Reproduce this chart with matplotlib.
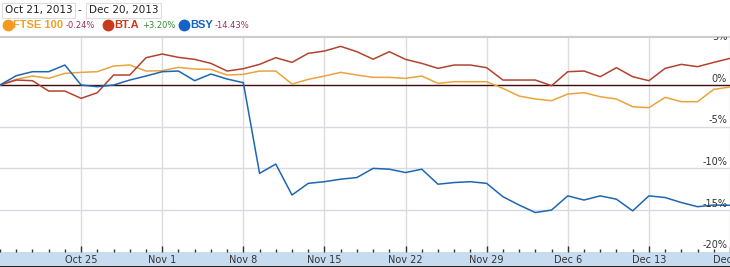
import matplotlib.pyplot as plt
from matplotlib.patches import Rectangle

# trading days from Oct 18 (index 0) to Dec 20, 2013 (index 45)
ftse = [0, 0.68, 1.08, 0.8, 1.4, 1.52, 1.6, 2.28, 2.4, 1.68, 1.72, 2.12, 1.92, 1.88, 1.2, 1.28,
        1.68, 1.68, 0.12, 0.68, 1.08, 1.52, 1.2, 0.92, 0.92, 0.8, 1.08, 0.2, 0.4, 0.4, 0.4,
        -0.4, -1.32, -1.68, -1.88, -1.08, -0.92, -1.4, -1.68, -2.6, -2.72, -1.48, -2.0, -2.0,
        -0.52, -0.24]
bt = [0, 0.6, 0.52, -0.72, -0.72, -1.6, -0.92, 1.2, 1.2, 3.28, 3.72, 3.32, 3.08, 2.6, 1.68, 1.96,
      2.48, 3.28, 2.72, 3.8, 4.08, 4.64, 4.0, 3.1, 4.0, 3.08, 2.6, 2.0, 2.4, 2.4, 2.08,
      0.6, 0.6, 0.6, -0.08, 1.6, 1.68, 1.0, 2.08, 1.0, 0.52, 2.0, 2.48, 2.2, 2.72, 3.2]
bsy = [0, 1.12, 1.6, 1.6, 2.4, 0, -0.2, 0, 0.6, 1.08, 1.6, 1.68, 0.52, 1.32, 0.72, 0.28,
       -10.6, -9.48, -13.2, -11.8, -11.6, -11.3, -11.1, -10.0, -10.1, -10.5, -10.1, -11.9,
       -11.7, -11.6, -11.8, -13.4, -14.4, -15.3, -15.0, -13.3, -13.8, -13.3, -13.7, -15.1,
       -13.3, -13.5, -14.1, -14.6, -14.4, -14.43]

week_pos = [5, 10, 15, 20, 25, 30, 35, 40, 45]
week_labels = ["Oct 25", "Nov 1", "Nov 8", "Nov 15", "Nov 22", "Nov 29", "Dec 6", "Dec 13", "Dec 20"]
y_ticks = [5, 0, -5, -10, -15, -20]

names = ["FTSE 100", "BT.A", "BSY"]
changes = ["-0.24%", "+3.20%", "-14.43%"]
start_date, end_date = "Oct 21, 2013", "Dec 20, 2013"

line_colors = ["#E9A43C", "#B2432F", "#1E66B2"]
dot_colors = ["#F39A1E", "#C83A1C", "#1262C8"]
name_colors = ["#F0A02A", "#C83A1C", "#1262C8"]
change_colors = ["#9B2F5F", "#2E8B2E", "#9B2F5F"]

W, H = 730, 267
fig = plt.figure(figsize=(W / 100, H / 100), dpi=100)
ax = fig.add_axes([0, (H - 251.7) / H, 1, (251.7 - 36.7) / H])

x = list(range(len(ftse)))
ax.set_xlim(0, 45)
ax.set_ylim(-20, 5.8)

for v in [-5, -10, -15]:
    ax.axhline(v, color="#D8D8E6", lw=1.0, zorder=1)
for p in week_pos:
    ax.axvline(p, color="#DCDCDC", lw=1.0, zorder=1)
ax.axhline(0, color="#3E0A0A", lw=1.0, zorder=2)

for s, c in zip([ftse, bt, bsy], line_colors):
    ax.plot(x, s, color=c, lw=1.1, zorder=3)

for v in y_ticks:
    ax.text(0.996, v + 0.15, f"{v}%", transform=ax.get_yaxis_transform(),
            ha="right", va="bottom", fontsize=7, color="#333333", clip_on=True, zorder=4)

for side in ["left", "right", "bottom"]:
    ax.spines[side].set_visible(False)
ax.spines["top"].set_color("#CCCCCC")
ax.spines["top"].set_linewidth(1.5)

ax.set_yticks([])
ax.set_xticks(week_pos)
ax.set_xticklabels(week_labels, fontsize=7, color="#333333")
ax.set_xticks(x, minor=True)
ax.tick_params(axis="x", which="major", direction="in", length=4, width=1, color="#333333", pad=2.5)
ax.tick_params(axis="x", which="minor", direction="in", length=2, width=1, color="#333333")

# axis band below the plot
fig.patches.append(Rectangle((0, 1.5 / H), 1, 14.2 / H, transform=fig.transFigure,
                             facecolor="#C8DCF1", edgecolor="none", zorder=-1))
fig.patches.append(Rectangle((0, 0), 1, 1.5 / H, transform=fig.transFigure,
                             facecolor="#222222", edgecolor="none", zorder=-1))

# header: date range boxes
box = dict(boxstyle="square,pad=0.25", facecolor="white", edgecolor="#DDDDDD", lw=0.8)
fig.text(5 / W, 1 - 10.5 / H, start_date, fontsize=7.5, color="#222222", va="center", bbox=box)
fig.text(78 / W, 1 - 10.5 / H, "-", fontsize=7.5, color="#222222", va="center")
fig.text(89 / W, 1 - 10.5 / H, end_date, fontsize=7.5, color="#222222", va="center", bbox=box)

# legend row
dot_x = [8, 108, 184]
name_x = [13, 114, 190]
change_x = [66, 142, 215]
for i in range(3):
    ax.plot([dot_x[i] / W], [1 - 25 / H], marker="o", ms=7.5, color=dot_colors[i],
            transform=fig.transFigure, clip_on=False)
    fig.text(name_x[i] / W, 1 - 25 / H, names[i], fontsize=8, fontweight="bold",
             family="Liberation Sans", color=name_colors[i], va="center")
    fig.text(change_x[i] / W, 1 - 25.5 / H, changes[i], fontsize=6,
             color=change_colors[i], va="center")

fig.savefig("out.png", dpi=100)
